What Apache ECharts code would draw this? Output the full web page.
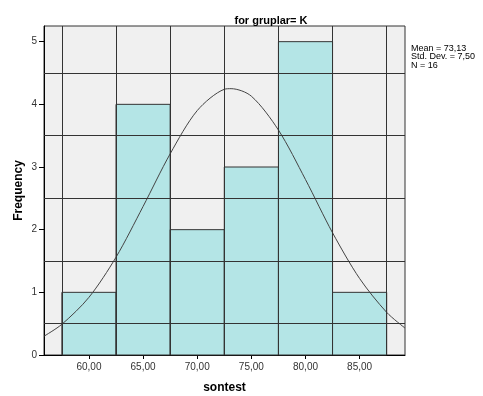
<!DOCTYPE html>
<html>
<head>
<meta charset="utf-8">
<script src="https://cdn.jsdelivr.net/npm/echarts@6/dist/echarts.min.js"></script>
<style>
  html, body { margin: 0; padding: 0; background: #fff; }
  #chart { width: 483px; height: 396px; }
</style>
</head>
<body>
<div id="chart"></div>
<script>
// histogram bins (sontest), frequency per bin
const binEdges = [57.5, 62.5, 67.5, 72.5, 77.5, 82.5, 87.5];
const counts = [1, 4, 2, 3, 5, 1];
// normal curve
const curveX = [55.85, 57.5, 60, 62.5, 65, 67.5, 70, 72.5, 73.13, 75, 77.5, 80, 82.5, 85, 87.5, 89.19];
const curveY = [0.30, 0.49, 0.92, 1.56, 2.37, 3.21, 3.90, 4.24, 4.25, 4.13, 3.59, 2.80, 1.95, 1.22, 0.68, 0.43];
const xTicks = [60, 65, 70, 75, 80, 85];
const yTicks = [0, 1, 2, 3, 4, 5];
const gridHalves = [0.5, 1.5, 2.5, 3.5, 4.5];
const statLines = ['Mean = 73,13', 'Std. Dev. = 7,50', 'N = 16'];

const lineCol = '#333333';
const barData = counts.map((c, i) => [binEdges[i], binEdges[i + 1], c]);
const curveData = curveX.map((x, i) => [x, curveY[i]]);

const chart = echarts.init(document.getElementById('chart'));
chart.setOption({
    animation: false,
    title: {
        text: 'for gruplar= K',
        left: 266,
        top: 10,
        textAlign: 'center',
        textStyle: { fontFamily: 'Liberation Sans', fontSize: 11, fontWeight: 'bold', color: '#000' }
    },
    graphic: [{
        type: 'text',
        left: 411,
        top: 44,
        style: {
            text: statLines.join('\n'),
            fontFamily: 'Liberation Sans',
            fontSize: 9,
            lineHeight: 8.5,
            fill: '#000'
        }
    }],
    grid: {
        left: 44, right: 78, top: 26, bottom: 41,
        outerBoundsMode: 'none',
        show: true,
        backgroundColor: '#f0f0f0',
        borderColor: lineCol,
        borderWidth: 1
    },
    xAxis: {
        type: 'value',
        min: 55.85,
        max: 89.19,
        name: 'sontest',
        nameLocation: 'middle',
        nameGap: 27,
        nameMoveOverlap: false,
        nameTextStyle: { fontFamily: 'Liberation Sans', fontSize: 12, fontWeight: 'bold', color: '#000' },
        axisLine: { show: true, onZero: false, lineStyle: { color: '#000' } },
        axisTick: { show: true, length: 4, customValues: xTicks, lineStyle: { color: '#000' } },
        axisLabel: {
            customValues: xTicks,
            margin: 7,
            fontFamily: 'Liberation Sans',
            fontSize: 10,
            color: '#333',
            formatter: v => v.toFixed(2).replace('.', ',')
        },
        splitLine: { show: false }
    },
    yAxis: {
        type: 'value',
        min: 0,
        max: 5.25,
        name: 'Frequency',
        nameLocation: 'middle',
        nameGap: 19,
        nameMoveOverlap: false,
        nameTextStyle: { fontFamily: 'Liberation Sans', fontSize: 12, fontWeight: 'bold', color: '#000' },
        axisLine: { show: true, lineStyle: { color: '#000' } },
        axisTick: { show: true, length: 5, customValues: yTicks, lineStyle: { color: '#000' } },
        axisLabel: {
            customValues: yTicks,
            margin: 7,
            fontFamily: 'Liberation Sans',
            fontSize: 10,
            color: '#333'
        },
        splitLine: { show: false }
    },
    series: [
        {
            // background grid lines: half steps and bin edges
            type: 'line',
            data: [],
            z: 1,
            markLine: {
                silent: true,
                symbol: 'none',
                label: { show: false },
                lineStyle: { color: lineCol, width: 1, type: 'solid' },
                data: gridHalves.map(v => ({ yAxis: v }))
                    .concat(binEdges.map(v => ({ xAxis: v })))
            }
        },
        {
            type: 'custom',
            z: 2,
            data: barData,
            encode: { x: [0, 1], y: 2 },
            renderItem: (params, api) => {
                const p0 = api.coord([api.value(0), 0]);
                const p1 = api.coord([api.value(1), api.value(2)]);
                return {
                    type: 'rect',
                    shape: { x: p0[0], y: p1[1], width: p1[0] - p0[0], height: p0[1] - p1[1] },
                    style: { fill: '#b4e5e6', stroke: lineCol, lineWidth: 1 }
                };
            }
        },
        {
            type: 'line',
            z: 3,
            data: curveData,
            smooth: 0.3,
            showSymbol: false,
            lineStyle: { color: '#444', width: 1 }
        }
    ]
});
</script>
</body>
</html>
